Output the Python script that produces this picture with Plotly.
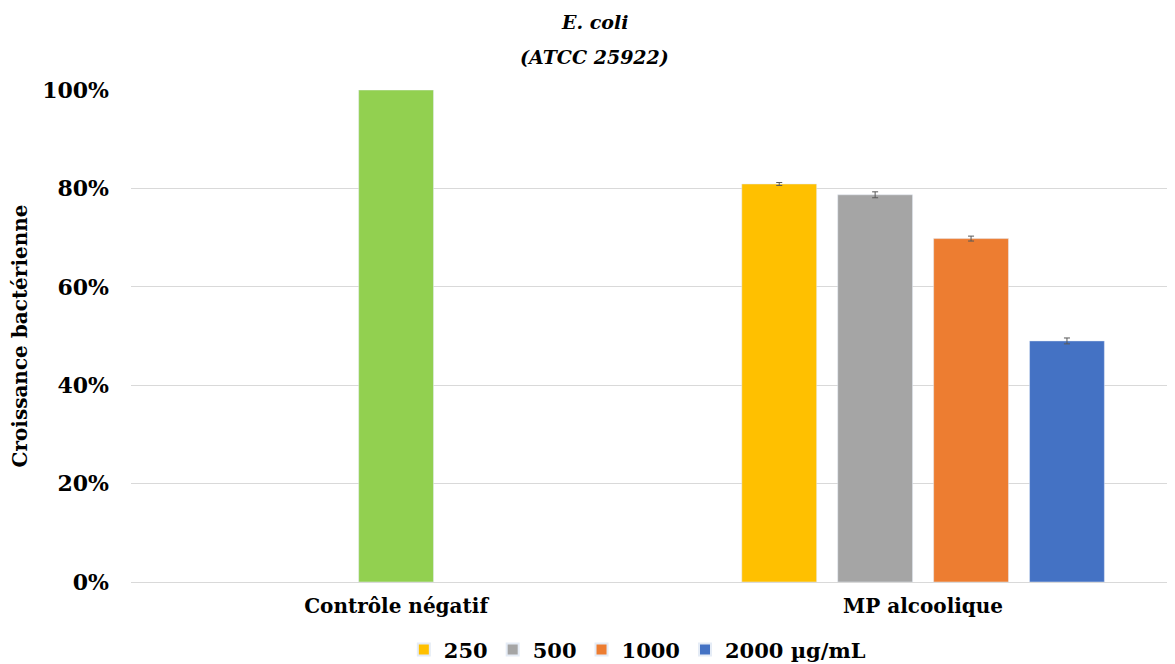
import plotly.graph_objects as go

categories = ["Contrôle négatif", "MP alcoolique"]
control_value = [1.00]
conc_labels = ["250", "500", "1000", "2000 µg/mL"]
conc_values = [0.809, 0.787, 0.698, 0.490]
conc_errors = [0.003, 0.006, 0.005, 0.006]
colors_conc = ["#FFC000", "#A5A5A5", "#ED7D31", "#4472C4"]
color_control = "#92D050"

FONT = "DejaVu Serif"
bar_w = 0.142
offsets = [-0.344, -0.162, 0.020, 0.202]

fig = go.Figure()
fig.add_trace(go.Bar(
    x=[categories[0]], y=control_value, marker_color=color_control,
    width=bar_w, offset=-bar_w / 2, showlegend=False, name="Contrôle"))
for lab, v, e, c, off in zip(conc_labels, conc_values, conc_errors, colors_conc, offsets):
    fig.add_trace(go.Bar(
        x=[categories[1]], y=[v], name=lab, marker_color=c,
        width=bar_w, offset=off,
        error_y=dict(type="data", array=[e], color="#595959", thickness=1, width=3)))

fig.update_layout(
    width=1175, height=664,
    margin=dict(l=123, r=8, t=82, b=90, autoexpand=False),
    barmode="overlay",
    plot_bgcolor="white", paper_bgcolor="white",
    font=dict(family=FONT, color="black"),
    legend=dict(orientation="h", x=0.485, xanchor="center", y=-0.138, yanchor="middle",
                font=dict(family=FONT, size=21, weight="bold"),
                itemwidth=30, traceorder="normal", itemsizing="constant"),
    annotations=[
        dict(text="<b><i>E. coli</i></b>", xref="paper", yref="paper", x=0.444, y=1.138,
             xanchor="center", yanchor="middle", showarrow=False, font=dict(family=FONT, size=19)),
        dict(text="<b><i>(ATCC 25922)</i></b>", xref="paper", yref="paper", x=0.444, y=1.067,
             xanchor="center", yanchor="middle", showarrow=False, font=dict(family=FONT, size=19)),
    ],
)
fig.update_xaxes(
    type="category", categoryorder="array", categoryarray=categories,
    range=[-0.503, 1.478], showgrid=False, showline=False, zeroline=False, automargin=False,
    tickfont=dict(family=FONT, size=20, weight="bold"), ticks="", ticklabelstandoff=10)
fig.update_yaxes(
    range=[0, 1.0], dtick=0.2, tickformat=".0%", automargin=False,
    showgrid=True, gridcolor="#D9D9D9", gridwidth=1,
    zeroline=True, zerolinecolor="#D9D9D9", zerolinewidth=1,
    showline=False, ticks="", ticklabelstandoff=21,
    tickfont=dict(family=FONT, size=22, weight="bold"),
    title=dict(text="Croissance bactérienne", font=dict(family=FONT, size=20, weight="bold"), standoff=14))

fig.write_html("out.html")
